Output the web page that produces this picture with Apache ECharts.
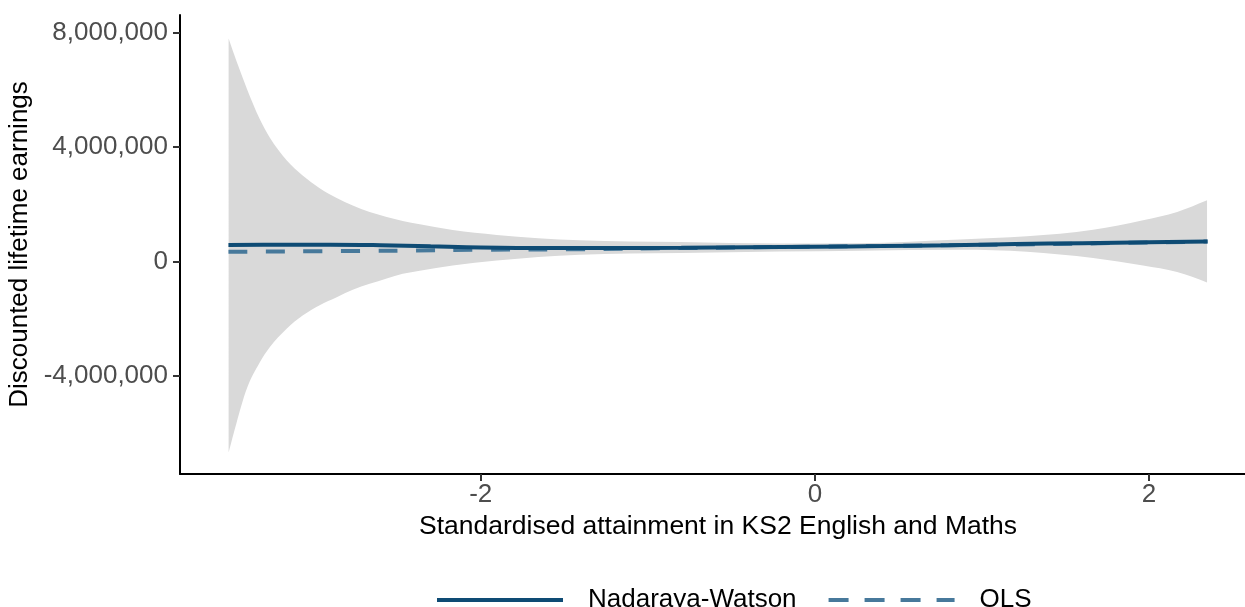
<!DOCTYPE html>
<html>
<head>
<meta charset="utf-8">
<script src="https://cdn.jsdelivr.net/npm/echarts@6/dist/echarts.min.js"></script>
<style>
html,body{margin:0;padding:0;background:#fff;}
#chart{width:1245px;height:607px;}
</style>
</head>
<body>
<div id="chart"></div>
<script>
// Confidence band (Nadaraya-Watson)
const bandX     = [-3.509, -3.461, -3.401, -3.323, -3.263, -3.162, -3.066, -2.964, -2.862, -2.766, -2.665, -2.563, -2.467, -2.365, -2.168, -1.904, -1.407, -0.808, -0.210, 0.269, 0.868, 1.269, 1.665, 1.964, 2.168, 2.347];
const bandUpper = [7800000, 6990000, 6060000, 4980000, 4340000, 3540000, 3010000, 2560000, 2220000, 1960000, 1730000, 1560000, 1420000, 1300000, 1100000, 930000, 740000, 680000, 630000, 640000, 770000, 880000, 1110000, 1440000, 1730000, 2140000];
const bandLower = [-6680000, -5630000, -4460000, -3530000, -3000000, -2350000, -1890000, -1530000, -1250000, -990000, -780000, -590000, -430000, -320000, -140000, 35000, 235000, 300000, 350000, 380000, 410000, 340000, 120000, -140000, -370000, -730000];

// Nadaraya-Watson estimate
const nwX = [-3.51, -3.2, -2.9, -2.6, -2.3, -2.0, -1.6, -1.2, -0.8, -0.4, 0, 0.4, 0.8, 1.2, 1.6, 2.0, 2.35];
const nwY = [580000, 590000, 590000, 570000, 530000, 490000, 470000, 470000, 480000, 500000, 520000, 540000, 570000, 610000, 640000, 670000, 700000];

// OLS fit
const olsX = [-3.51, -2.5, -2.0, -1.4, -0.8, 0, 0.8, 1.6, 2.35];
const olsY = [340000, 380000, 410000, 430000, 470000, 520000, 570000, 630000, 700000];

const yTicks = [-4000000, 0, 4000000, 8000000];
const xTicks = [-2, 0, 2];

const seriesNames = ['Nadaraya-Watson', 'OLS'];

const fmt = v => {
  const s = Math.abs(v).toString().replace(/\B(?=(\d{3})+(?!\d))/g, ',');
  return (v < 0 ? '-' : '') + s;
};

// monotone cubic segments through pixel points (x increasing)
function monoSegs(p) {
  const n = p.length, m = [], t = [];
  for (let k = 0; k < n - 1; k++) m.push((p[k + 1][1] - p[k][1]) / (p[k + 1][0] - p[k][0]));
  t.push(m[0]);
  for (let k = 1; k < n - 1; k++) t.push(m[k - 1] * m[k] <= 0 ? 0 : (m[k - 1] + m[k]) / 2);
  t.push(m[n - 2]);
  for (let k = 0; k < n - 1; k++) {
    if (m[k] === 0) { t[k] = 0; t[k + 1] = 0; continue; }
    const a = t[k] / m[k], b = t[k + 1] / m[k], s = a * a + b * b;
    if (s > 9) { const tau = 3 / Math.sqrt(s); t[k] = tau * a * m[k]; t[k + 1] = tau * b * m[k]; }
  }
  const segs = [];
  for (let k = 0; k < n - 1; k++) {
    const dx = (p[k + 1][0] - p[k][0]) / 3;
    segs.push([[p[k][0] + dx, p[k][1] + t[k] * dx], [p[k + 1][0] - dx, p[k + 1][1] - t[k + 1] * dx], p[k + 1]]);
  }
  return segs;
}
const P = q => q[0].toFixed(2) + ' ' + q[1].toFixed(2);

const chart = echarts.init(document.getElementById('chart'), null, {renderer: 'canvas'});
const font = '"Liberation Sans", Arial, Helvetica, sans-serif';

const option = {
  animation: false,
  backgroundColor: '#ffffff',
  textStyle: {fontFamily: font},
  grid: {left: 180, right: -11, top: 15, bottom: 133, containLabel: false, outerBoundsMode: 'none'},
  legend: {
    data: [
      {name: seriesNames[0], lineStyle: {width: 4, type: 'solid'}},
      {name: seriesNames[1], lineStyle: {width: 4, type: [20, 16]}}
    ],
    left: 430,
    top: 582,
    itemWidth: 126,
    itemHeight: 14,
    itemGap: 30,
    itemStyle: {opacity: 0},
    textStyle: {fontSize: 26, color: '#000', fontFamily: font, padding: [0, 0, 0, 20]}
  },
  xAxis: {
    type: 'value',
    min: -3.80,
    max: 2.64,
    name: 'Standardised attainment in KS2 English and Maths',
    nameLocation: 'middle',
    nameGap: 37,
    nameTextStyle: {fontSize: 26.5, color: '#000', fontFamily: font},
    splitLine: {show: false},
    axisLine: {show: true, onZero: false, lineStyle: {color: '#000', width: 2}},
    axisTick: {show: true, length: 7, lineStyle: {color: '#333', width: 2}, customValues: xTicks},
    axisLabel: {fontSize: 26, color: '#4d4d4d', margin: 8, customValues: xTicks, formatter: v => String(v)}
  },
  yAxis: {
    type: 'value',
    min: -7430000,
    max: 8620000,
    name: 'Discounted lifetime earnings',
    nameLocation: 'middle',
    nameGap: 138,
    nameTextStyle: {fontSize: 26, color: '#000', fontFamily: font},
    splitLine: {show: false},
    axisLine: {show: true, onZero: false, lineStyle: {color: '#000', width: 2}},
    axisTick: {show: true, length: 7, lineStyle: {color: '#333', width: 2}, customValues: yTicks},
    axisLabel: {fontSize: 26, color: '#4d4d4d', margin: 12, customValues: yTicks, formatter: v => fmt(v)}
  },
  series: [
    {
      name: 'band',
      type: 'custom',
      silent: true,
      z: 1,
      clip: true,
      data: [[bandX[0], bandUpper[0]]],
      encode: {x: 0, y: 1},
      renderItem: (params, api) => {
        const up = bandX.map((x, i) => api.coord([x, bandUpper[i]]));
        const lo = bandX.map((x, i) => api.coord([x, bandLower[i]]));
        const su = monoSegs(up), sl = monoSegs(lo);
        let d = 'M ' + P(up[0]);
        su.forEach(s => { d += ' C ' + P(s[0]) + ' ' + P(s[1]) + ' ' + P(s[2]); });
        d += ' L ' + P(lo[lo.length - 1]);
        for (let k = sl.length - 1; k >= 0; k--) {
          d += ' C ' + P(sl[k][1]) + ' ' + P(sl[k][0]) + ' ' + P(lo[k]);
        }
        d += ' Z';
        return {
          type: 'path',
          shape: {pathData: d},
          style: {fill: '#d9d9d9'}
        };
      }
    },
    {
      name: seriesNames[1],
      type: 'line',
      symbol: 'none',
      smooth: 0.4,
      color: '#47799b',
      lineStyle: {color: '#47799b', width: 4, type: [19, 18.5]},
      data: olsX.map((x, i) => [x, olsY[i]]),
      z: 3
    },
    {
      name: seriesNames[0],
      type: 'line',
      symbol: 'none',
      smooth: 0.4,
      color: '#0e4b74',
      lineStyle: {color: '#0e4b74', width: 4},
      data: nwX.map((x, i) => [x, nwY[i]]),
      z: 4
    }
  ]
};
chart.setOption(option);
</script>
</body>
</html>
